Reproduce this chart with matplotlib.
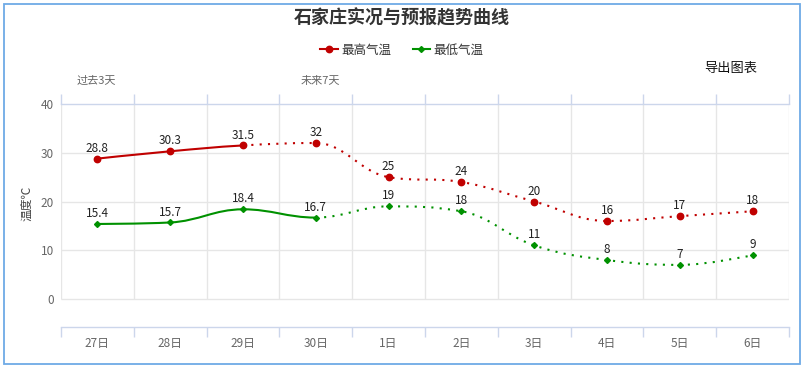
import numpy as np
import matplotlib
matplotlib.use("Agg")
import matplotlib.pyplot as plt
from matplotlib.path import Path
from matplotlib.patches import PathPatch, Rectangle
from matplotlib.lines import Line2D

plt.rcParams['font.family'] = ['Noto Sans CJK SC', 'DejaVu Sans']

# ---- data ----
dates = ['27日', '28日', '29日', '30日', '1日', '2日', '3日', '4日', '5日', '6日']
high = [28.8, 30.3, 31.5, 32, 25, 24, 20, 16, 17, 18]
low = [15.4, 15.7, 18.4, 16.7, 19, 18, 11, 8, 7, 9]
high_last_observed = 2   # index of last observed (solid) point
low_last_observed = 3
title = '石家庄实况与预报趋势曲线'
series_names = ['最高气温', '最低气温']

RED = '#c00000'
GREEN = '#009100'
AXBLUE = '#ccd6eb'
GRID = '#e6e6e6'


def spline_controls(ys, smoothing=1.5):
    n = len(ys)
    xs = np.arange(n, dtype=float)
    ys = np.asarray(ys, dtype=float)
    L = [(xs[i], ys[i]) for i in range(n)]
    R = [(xs[i], ys[i]) for i in range(n)]
    d = smoothing + 1
    for i in range(1, n - 1):
        px, py = xs[i], ys[i]
        lx, ly = xs[i - 1], ys[i - 1]
        nx, ny = xs[i + 1], ys[i + 1]
        lcx = (smoothing * px + lx) / d
        lcy = (smoothing * py + ly) / d
        rcx = (smoothing * px + nx) / d
        rcy = (smoothing * py + ny) / d
        corr = ((rcy - lcy) * (rcx - px)) / (rcx - lcx) + py - rcy
        lcy += corr
        rcy += corr
        if lcy > ly and lcy > py:
            lcy = max(ly, py)
            rcy = 2 * py - lcy
        elif lcy < ly and lcy < py:
            lcy = min(ly, py)
            rcy = 2 * py - lcy
        if rcy > ny and rcy > py:
            rcy = max(ny, py)
            lcy = 2 * py - rcy
        elif rcy < ny and rcy < py:
            rcy = min(ny, py)
            lcy = 2 * py - rcy
        L[i] = (lcx, lcy)
        R[i] = (rcx, rcy)
    return xs, ys, L, R


def spline_path(ys, i0, i1):
    xs, yv, L, R = spline_controls(ys)
    verts = [(xs[i0], yv[i0])]
    codes = [Path.MOVETO]
    for i in range(i0 + 1, i1 + 1):
        verts += [R[i - 1], L[i], (xs[i], yv[i])]
        codes += [Path.CURVE4] * 3
    return Path(verts, codes)


fig = plt.figure(figsize=(8.07, 3.69), dpi=100)
fig.patches.append(Rectangle((3.5 / 807, 5.5 / 369), 796 / 807, 360 / 369,
                             transform=fig.transFigure, fill=False,
                             edgecolor='#6eaae6', lw=1.3))

ax = fig.add_axes([61 / 807, 1 - 327 / 369, 728 / 807, 223 / 369])
ax.set_xlim(-0.5, 9.5)
ax.set_ylim(-5.74, 40)

# grid
ax.hlines([0, 10, 20, 30], -0.5, 9.5, color=GRID, lw=1, zorder=0)
ax.vlines(np.arange(-0.5, 10, 1), 0, 40, color=GRID, lw=1, zorder=0)

for s in ['left', 'right']:
    ax.spines[s].set_visible(False)
for s in ['top', 'bottom']:
    ax.spines[s].set_color(AXBLUE)
    ax.spines[s].set_linewidth(1)

ax.set_xticks(np.arange(-0.5, 10, 1))
ax.set_xticks(np.arange(len(dates)), minor=True)
ax.set_xticklabels([])
ax.set_xticklabels(dates, minor=True)
ax.tick_params(axis='x', which='major', top=True, bottom=True, direction='out',
               length=7, color=AXBLUE, width=1)
ax.tick_params(axis='x', which='minor', length=0, pad=7, labelsize=8.5,
               labelcolor='#666666')
ax.set_yticks([0, 10, 20, 30, 40])
ax.tick_params(axis='y', length=0, pad=5, labelsize=8.5, labelcolor='#666666')

# series
for ys, last_obs, color, marker, ms in [(high, high_last_observed, RED, 'o', 4.6),
                                        (low, low_last_observed, GREEN, 'D', 3)]:
    n = len(ys)
    ax.add_patch(PathPatch(spline_path(ys, 0, last_obs), fill=False,
                           edgecolor=color, lw=1.5, zorder=3))
    ax.add_patch(PathPatch(spline_path(ys, last_obs, n - 1), fill=False,
                           edgecolor=color, lw=1.5, linestyle=(0, (1, 3)),
                           zorder=3))
    ax.plot(np.arange(n), ys, linestyle='none', marker=marker, ms=ms,
            color=color, zorder=4)
    for i, v in enumerate(ys):
        ax.annotate(f'{v:g}', (i, v), xytext=(0, 7.5), textcoords='offset points',
                    ha='center', va='center', fontsize=8.5, color='#222222',
                    zorder=5)

# texts
fig.text(402 / 807, 1 - 18 / 369, title, ha='center', va='center',
         fontsize=13, fontweight='bold', color='#333333')
fig.text(96 / 807, 1 - 81 / 369, '过去3天', ha='center', va='center',
         fontsize=8, color='#666666')
fig.text(320 / 807, 1 - 81 / 369, '未来7天', ha='center', va='center',
         fontsize=8, color='#666666')
fig.text(731 / 807, 1 - 68 / 369, '导出图表', ha='center', va='center',
         fontsize=9.5, color='#111111')
fig.text(27 / 807, 1 - 203 / 369, '温度℃', ha='center', va='center',
         rotation=90, fontsize=8.5, color='#444444')

handles = [Line2D([], [], color=RED, lw=1.5, marker='o', ms=4.6),
           Line2D([], [], color=GREEN, lw=1.5, marker='D', ms=3)]
fig.legend(handles, series_names, loc='center', bbox_to_anchor=(402 / 807, 1 - 50 / 369),
           ncol=2, frameon=False, fontsize=9, handlelength=1.4, handletextpad=0.3,
           columnspacing=1.7, labelcolor='#333333')

fig.savefig('out.png', dpi=100)
